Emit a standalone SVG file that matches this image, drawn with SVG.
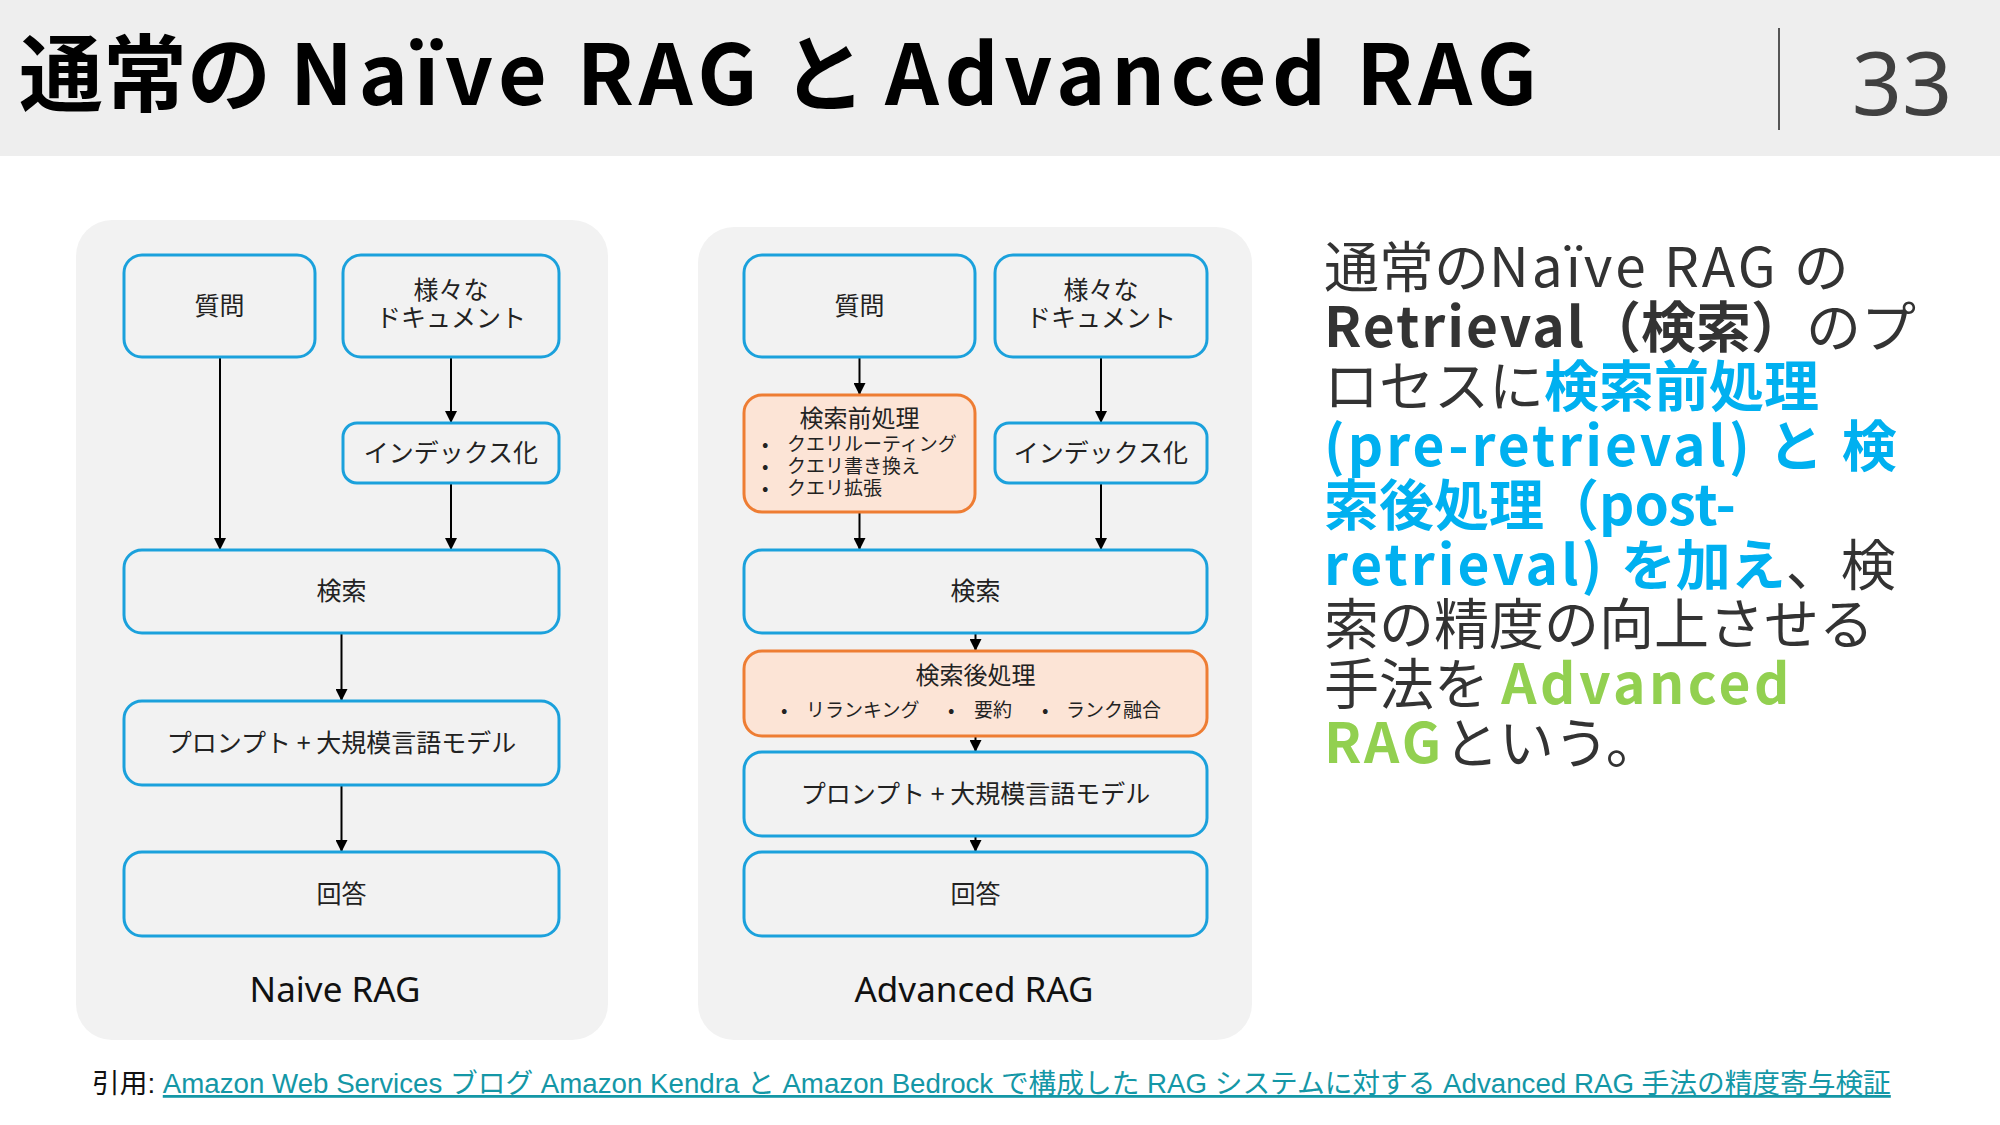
<svg xmlns="http://www.w3.org/2000/svg" width="2000" height="1125" viewBox="0 0 2000 1125">
<defs>
<marker id="ah" markerUnits="userSpaceOnUse" markerWidth="12" markerHeight="12" viewBox="0 0 12 12" refX="12" refY="6" orient="auto">
<path d="M0,0 L12,6 L0,12 Z" fill="#000"/>
</marker>
<style>
.panel{fill:#f2f2f2}
.box{fill:#f2f2f2;stroke:#1ba1dc;stroke-width:3}
.obox{fill:#fce4d6;stroke:#ee7d33;stroke-width:3}
.lbl{font-family:"Noto Sans CJK JP","Noto Sans",sans-serif;font-size:25px;fill:#222;text-anchor:middle}
.ttl{font-family:"Noto Sans CJK JP","Noto Sans",sans-serif;font-size:24px;fill:#222;text-anchor:middle}
.bul{font-family:"Noto Sans CJK JP","Noto Sans",sans-serif;font-size:19px;fill:#222}
.cap{font-family:"Noto Sans","Noto Sans CJK JP",sans-serif;font-size:35px;fill:#111;text-anchor:middle}
.conn line{stroke:#000;stroke-width:2;marker-end:url(#ah)}
.body{font-family:"Noto Sans CJK JP","Noto Sans",sans-serif;font-size:55px;fill:#333}
.b{font-weight:bold}
.blue{fill:#00b0f0;font-weight:bold}
.green{fill:#92d050;font-weight:bold}
.ls{letter-spacing:3px}
.ls2{letter-spacing:2px}
.tl{letter-spacing:5.5px}
</style>
</defs>
<rect width="2000" height="1125" fill="#fff"/>
<g id="header">
<rect x="0" y="0" width="2000" height="156" fill="#eeeeee"/>
<text x="19" y="105" font-family="'Noto Sans CJK JP','Noto Sans',sans-serif" font-size="84" font-weight="bold" fill="#000">通常の <tspan class="tl">Naïve RAG</tspan> と <tspan class="tl">Advanced RAG</tspan></text>
<line x1="1779" y1="28" x2="1779" y2="130" stroke="#555" stroke-width="2"/>
<text x="1902" y="115" font-family="'Noto Sans','Open Sans',sans-serif" font-size="88" fill="#404040" text-anchor="middle">33</text>
</g>

<g id="panel-naive">
<rect class="panel" x="76" y="220" width="532" height="820" rx="36"/>
<text class="cap" x="335" y="1002">Naive RAG</text>
</g>
<g id="panel-advanced">
<rect class="panel" x="698" y="227" width="554" height="813" rx="36"/>
<text class="cap" x="974" y="1002">Advanced RAG</text>
</g>

<g id="connectors" class="conn">
<line x1="220" y1="357" x2="220" y2="550"/>
<line x1="451" y1="357" x2="451" y2="423"/>
<line x1="451" y1="483" x2="451" y2="550"/>
<line x1="341.5" y1="633" x2="341.5" y2="701"/>
<line x1="341.5" y1="785" x2="341.5" y2="852"/>
<line x1="859.5" y1="357" x2="859.5" y2="395"/>
<line x1="859.5" y1="512" x2="859.5" y2="550"/>
<line x1="1101" y1="357" x2="1101" y2="423"/>
<line x1="1101" y1="483" x2="1101" y2="550"/>
<line x1="975.5" y1="633" x2="975.5" y2="651"/>
<line x1="975.5" y1="736" x2="975.5" y2="752"/>
<line x1="975.5" y1="836" x2="975.5" y2="852"/>
</g>

<g id="n-q1"><rect class="box" x="124" y="255" width="191" height="102" rx="18"/><text class="lbl" x="219.5" y="315">質問</text></g>
<g id="n-d1"><rect class="box" x="343" y="255" width="216" height="102" rx="18"/><text class="lbl" x="451" y="299">様々な</text><text class="lbl" x="451" y="327">ドキュメント</text></g>
<g id="n-i1"><rect class="box" x="343" y="423" width="216" height="60" rx="14"/><text class="lbl" x="451" y="462">インデックス化</text></g>
<g id="n-s1"><rect class="box" x="124" y="550" width="435" height="83" rx="18"/><text class="lbl" x="341.5" y="600">検索</text></g>
<g id="n-p1"><rect class="box" x="124" y="701" width="435" height="84" rx="18"/><text class="lbl" x="341.5" y="752">プロンプト + 大規模言語モデル</text></g>
<g id="n-a1"><rect class="box" x="124" y="852" width="435" height="84" rx="18"/><text class="lbl" x="341.5" y="903">回答</text></g>

<g id="n-q2"><rect class="box" x="744" y="255" width="231" height="102" rx="18"/><text class="lbl" x="859.5" y="315">質問</text></g>
<g id="n-d2"><rect class="box" x="995" y="255" width="212" height="102" rx="18"/><text class="lbl" x="1101" y="299">様々な</text><text class="lbl" x="1101" y="327">ドキュメント</text></g>
<g id="n-pre"><rect class="obox" x="744" y="395" width="231" height="117" rx="18"/>
<text class="ttl" x="859.5" y="427">検索前処理</text>
<text class="bul" x="762" y="451">•</text><text class="bul" x="787" y="451">クエリルーティング</text>
<text class="bul" x="762" y="473">•</text><text class="bul" x="787" y="473">クエリ書き換え</text>
<text class="bul" x="762" y="495">•</text><text class="bul" x="787" y="495">クエリ拡張</text>
</g>
<g id="n-i2"><rect class="box" x="995" y="423" width="212" height="60" rx="14"/><text class="lbl" x="1101" y="462">インデックス化</text></g>
<g id="n-s2"><rect class="box" x="744" y="550" width="463" height="83" rx="18"/><text class="lbl" x="975.5" y="600">検索</text></g>
<g id="n-post"><rect class="obox" x="744" y="651" width="463" height="85" rx="18"/>
<text class="ttl" x="975.5" y="684">検索後処理</text>
<text class="bul" x="781" y="717">•</text><text class="bul" x="806" y="717">リランキング</text>
<text class="bul" x="948" y="717">•</text><text class="bul" x="974" y="717">要約</text>
<text class="bul" x="1042" y="717">•</text><text class="bul" x="1066" y="717">ランク融合</text>
</g>
<g id="n-p2"><rect class="box" x="744" y="752" width="463" height="84" rx="18"/><text class="lbl" x="975.5" y="803">プロンプト + 大規模言語モデル</text></g>
<g id="n-a2"><rect class="box" x="744" y="852" width="463" height="84" rx="18"/><text class="lbl" x="975.5" y="903">回答</text></g>

<g id="description" class="body">
<text x="1324" y="287">通常の<tspan class="ls">Naïve RAG </tspan>の</text>
<text x="1324" y="347"><tspan class="b"><tspan class="ls2">Retrieval</tspan>（検索）</tspan>のプ</text>
<text x="1324" y="406">ロセスに<tspan class="blue">検索前処理</tspan></text>
<text x="1324" y="466"><tspan class="blue"><tspan class="ls">(pre-retrieval) と </tspan>検</tspan></text>
<text x="1324" y="525"><tspan class="blue">索後処理（post-</tspan></text>
<text x="1324" y="585"><tspan class="blue"><tspan class="ls">retrieval) </tspan>を加え</tspan>、検</text>
<text x="1324" y="644">索の精度の向上させる</text>
<text x="1324" y="704">手法を <tspan class="green" letter-spacing="3.5">Advanced</tspan></text>
<text x="1324" y="763"><tspan class="green" letter-spacing="3">RAG</tspan>という。</text>
</g>

<g id="footer">
<text x="92" y="1093" font-family="'Liberation Sans','Noto Sans CJK JP',sans-serif" font-size="27.7" fill="#111">引用: <tspan fill="#1497a6" text-decoration="underline">Amazon Web Services ブログ Amazon Kendra と Amazon Bedrock で構成した RAG システムに対する Advanced RAG 手法の精度寄与検証</tspan></text>
</g>
</svg>
